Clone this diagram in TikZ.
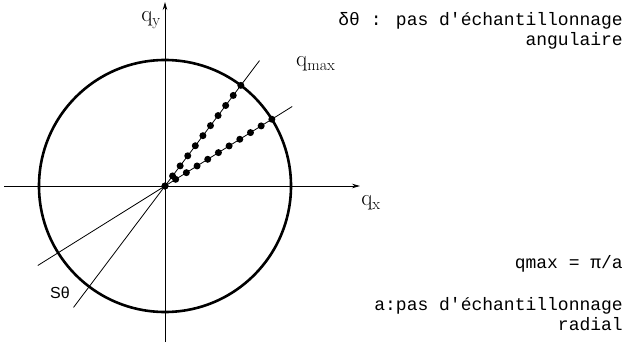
\documentclass[tikz,border=0pt]{standalone}
\usepackage{fontspec}
\newfontfamily\tw{Liberation Mono}
\newfontfamily\sansf{Liberation Sans}
\usetikzlibrary{arrows.meta,calc}
\tikzset{
  axisline/.style={line width=0.8pt,-{Stealth[length=8pt,width=4.5pt]}},
  thinline/.style={line width=0.8pt},
  circleline/.style={line width=2.6pt},
  sample/.style={circle,fill=black,inner sep=0pt,minimum size=7pt},
  qlabel/.style={font=\fontsize{23}{23}\selectfont,inner sep=0pt},
  notetext/.style={font=\tw\fontsize{18}{20}\selectfont,inner sep=0pt,align=right,anchor=east}
}
\begin{document}
\begin{tikzpicture}[x=1pt,y=-1pt]
\useasboundingbox (0,0) rectangle (626,345);
\coordinate (O) at (165,186);
% axes
\coordinate (ybot) at (165,342);
\coordinate (ytop) at (165,2);
\coordinate (xleft) at (4,186);
\coordinate (xright) at (360,186);
\draw[axisline] (ybot) -- (ytop);
\draw[axisline] (xleft) -- (xright);
% circle
\draw[circleline] (O) circle (126);
% rays
\path (O) ++(-53:157) coordinate (r1end);
\path (O) ++(-32:150) coordinate (r2end);
\path (O) ++(-233:152) coordinate (r1back);
\path (O) ++(-212:150) coordinate (r2back);
\draw[thinline] (O) -- (r1end);
\draw[thinline] (O) -- (r2end);
\draw[thinline] (O) -- (r1back);
\draw[thinline] (O) -- (r2back);
% samples
\foreach \k in {0,...,10} {
  \node[sample] (a\k) at ($(O)+(-53:{12.6*\k})$) {};
  \node[sample] (b\k) at ($(O)+(-32:{12.6*\k})$) {};
}
% labels
\node[qlabel] (qy) at (151,20) {q$_{\mathrm{y}}$};
\node[qlabel] (qx) at (371,203) {q$_{\mathrm{x}}$};
\node[qlabel,anchor=west] (qmax) at (296,64) {q$_{\mathrm{max}}$};
\node[font=\sansf\fontsize{16}{16}\selectfont,inner sep=0pt] (st) at (60,293) {Sθ};
\node[notetext] (n1) at (623,31) {δθ : pas d'échantillonnage\\angulaire};
\node[notetext] (n2) at (623,264) {qmax = π/a};
\node[notetext] (n3) at (623,314) {a:pas d'échantillonnage\\radial};
\end{tikzpicture}
\end{document}
